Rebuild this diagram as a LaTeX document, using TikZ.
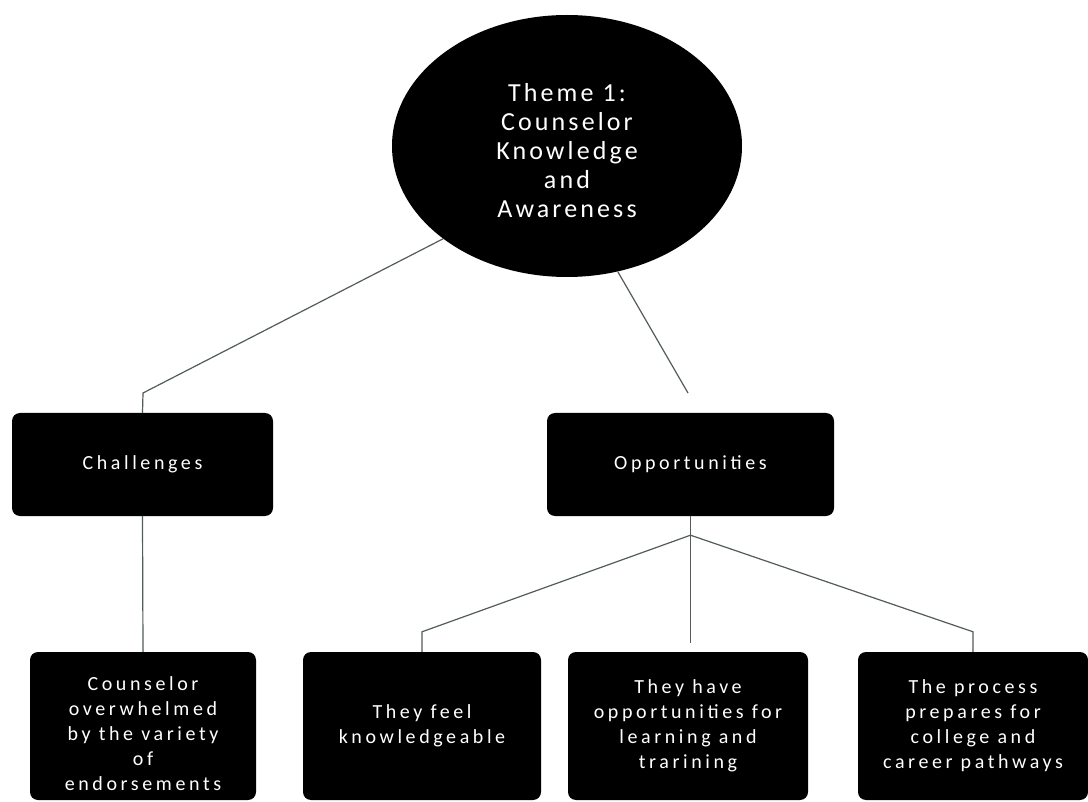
\documentclass[tikz,border=0pt]{standalone}
\usepackage{fontspec}
\usetikzlibrary{shapes.geometric}
\newfontfamily\boxfont{Carlito}[LetterSpace=18]
\newfontfamily\themefont{Carlito}[LetterSpace=12]
\definecolor{linec}{HTML}{525C59}
\begin{document}
\begin{tikzpicture}[x=1pt,y=-1pt,
  box/.style={fill=black, rounded corners=8pt, text=white, align=center, inner sep=0pt,
    font=\boxfont\fontsize{20}{25}\selectfont},
  themebox/.style={ellipse, fill=black, text=white, align=center, inner sep=0pt,
    minimum width=350pt, minimum height=262pt, font=\themefont\fontsize{26}{29}\selectfont},
  conn/.style={draw=linec, line width=1.2pt}]
\useasboundingbox[fill=white] (0,0) rectangle (1088,802);

\node[themebox] (theme) at (567,146) {\rule{0pt}{28pt}Theme 1:\\Counselor\\Knowledge\\and\\Awareness};

\node[box, minimum width=261pt, minimum height=103pt] (chal) at (142.5,464.5) {Challenges};
\node[box, minimum width=287pt, minimum height=103pt] (opp) at (690.5,464.5) {Opportunities};

\node[box, minimum width=226pt, minimum height=148pt] (b1) at (143,726) {\rule{0pt}{29pt}Counselor\\overwhelmed\\by the variety\\of\\endorsements};
\node[box, minimum width=238pt, minimum height=148pt] (b2) at (422,726) {They feel\\knowledgeable};
\node[box, minimum width=240pt, minimum height=148pt] (b3) at (688,726) {They have\\opportunities for\\learning and\\trarining};
\node[box, minimum width=230pt, minimum height=148pt] (b4) at (973,726) {The process\\prepares for\\college and\\career pathways};

% connectors
\coordinate (cbend) at (143,393);
\draw[conn] (theme.south west) -- (cbend) -- (chal.north);
\coordinate (oend) at (688,393);
\draw[conn] (theme.-68) -- (oend);
\draw[conn] (chal.south) -- (b1.north);

\coordinate (jn) at ([yshift=-19pt]opp.south);
\coordinate (mend) at ([yshift=-108pt]jn);
\coordinate (lb) at ([yshift=20pt]b2.north);
\coordinate (rb) at ([yshift=20pt]b4.north);
\draw[conn] (opp.south) -- (jn) -- (mend);
\draw[conn] (jn) -- (lb) -- (b2.north);
\draw[conn] (jn) -- (rb) -- (b4.north);
\end{tikzpicture}
\end{document}
